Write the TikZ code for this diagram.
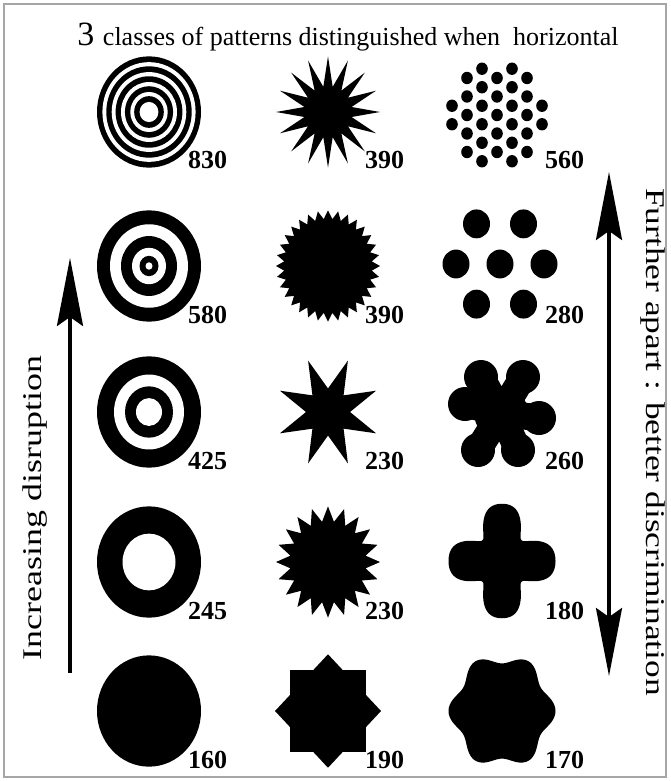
\documentclass[tikz,border=0pt]{standalone}
\usepackage{fontspec}
\setmainfont{Liberation Serif}
\usepackage{graphicx}
\usetikzlibrary{arrows.meta}

\tikzset{
  numlabel/.style={anchor=base west, inner sep=0pt, font=\fontsize{26}{26}\selectfont\bfseries},
  sidetext/.style={inner sep=0pt, font=\fontsize{27}{27}\selectfont},
  longarrow/.style={line width=3.5pt, -{Stealth[length=68pt, width=26pt, inset=9pt]}},
  bothways/.style={line width=3.5pt, {Stealth[length=68pt, width=26pt, inset=9pt]}-{Stealth[length=68pt, width=26pt, inset=9pt]}},
  shapescope/.style={yscale=1.07},
}

% spiky star: last index, step angle, start angle, outer radius, inner radius
\newcommand\spikes[5]{%
  \fill (#3:#4) \foreach \k in {1,...,#1} { -- ({#3+\k*#2}:{ifthenelse(mod(\k,2)==0,#4,#5)}) } -- cycle;}

\begin{document}
\begin{tikzpicture}[x=1pt, y=-1pt]
\useasboundingbox (0,0) rectangle (670,781);
\fill[white] (0,0) rectangle (670,781);
\draw[gray!70, line width=1.5pt] (4,4) rectangle (666,777);

% title
\node[anchor=base, inner sep=0pt] (title) at (348,46)
  {\fontsize{34}{34}\selectfont 3 \fontsize{26}{26}\selectfont classes of patterns distinguished when\ \ horizontal};

% first column: rings
\begin{scope}[shift={(149,112)}, shapescope]
  \foreach \r/\c in {52/black,46.6/white,42.7/black,37.3/white,33.4/black,28/white,24.1/black,18.7/white,14.8/black,9.4/white}
    \fill[\c] (0,0) circle[radius=\r];
\end{scope}
\begin{scope}[shift={(149,266)}, shapescope]
  \foreach \r/\c in {52/black,39/white,28/black,17/white,9.5/black,3.5/white}
    \fill[\c] (0,0) circle[radius=\r];
\end{scope}
\begin{scope}[shift={(149,412)}, shapescope]
  \foreach \r/\c in {52/black,35/white,24/black,13/white}
    \fill[\c] (0,0) circle[radius=\r];
\end{scope}
\begin{scope}[shift={(149,562)}, shapescope]
  \foreach \r/\c in {52/black,26.5/white}
    \fill[\c] (0,0) circle[radius=\r];
\end{scope}
\begin{scope}[shift={(149,711)}, shapescope]
  \fill (0,0) circle[radius=52];
\end{scope}

% second column: stars
\begin{scope}[shift={(328,112)}, shapescope]
  \spikes{31}{11.25}{90}{52}{24}
\end{scope}
\begin{scope}[shift={(328,266)}, shapescope]
  \spikes{63}{5.625}{90}{52}{44}
\end{scope}
\begin{scope}[shift={(328,412)}, shapescope]
  \spikes{15}{22.5}{22.5}{52}{22}
\end{scope}
\begin{scope}[shift={(328,562)}, shapescope]
  \spikes{39}{9}{90}{52}{38}
\end{scope}
\begin{scope}[shift={(328,711)}, shapescope]
  \fill (-38,-38) rectangle (38,38);
  \fill (53,0) -- (0,53) -- (-53,0) -- (0,-53) -- cycle;
\end{scope}

% third column: dots and blobs
\begin{scope}[shift={(497,115)}, shapescope]
  \foreach \dx/\dys in {0/{0,17.3,-17.3,34.6,-34.6},
                        15/{8.65,-8.65,25.95,-25.95,43.25,-43.25},
                        -15/{8.65,-8.65,25.95,-25.95,43.25,-43.25},
                        30/{0,17.3,-17.3,34.6,-34.6},
                        -30/{0,17.3,-17.3,34.6,-34.6},
                        45/{8.65,-8.65}, -45/{8.65,-8.65}}
    \foreach \dy in \dys
      \fill (\dx,\dy) circle[radius=5.8];
\end{scope}
\begin{scope}[shift={(500,264)}, shapescope]
  \foreach \p in {(-23.5,-37.5),(23.5,-37.5),(-44,0),(0,0),(44,0),(-23.5,37.5),(23.5,37.5)}
    \fill \p circle[radius=13.5];
\end{scope}
\begin{scope}[shift={(501,413)}]
  \fill (0,0) circle[radius=27];
  \foreach \p in {(-20,-36),(22,-36),(-36,-9),(38,5),(-23,37),(17,37)} {
    \draw[line width=27pt] (0,0) -- \p;
    \fill \p circle[radius=17];
  }
\end{scope}
\begin{scope}[shift={(502,561)}, shapescope]
  \fill plot[domain=0:360, samples=181] (\x:{43+13*cos(4*\x)-2.5*cos(8*\x)}) -- cycle;
\end{scope}
\begin{scope}[shift={(502,711)}, shapescope]
  \fill plot[domain=0:360, samples=181] (\x:{49+4.5*cos(6*\x)}) -- cycle;
\end{scope}

% counts
\foreach \t/\x/\y in {830/188/168, 580/188/323, 425/188/469, 245/188/619, 160/188/768,
                      390/365/168, 391/365/323, 230/365/469, 231/365/619, 190/365/768,
                      560/545/168, 280/545/323, 260/545/469, 180/545/619, 170/545/768}
  \node[numlabel] (n\t) at (\x,\y) {\pgfmathtruncatemacro\shown{\t==391 ? 390 : (\t==231 ? 230 : \t)}\shown};

% side arrows and texts
\coordinate (disruptlow) at (70,673);
\coordinate (disrupthigh) at (70,258);
\draw[longarrow] (disruptlow) -- (disrupthigh);
\node[sidetext, rotate=90] (disrupt) at (35,508) {\scalebox{1.33}[1]{Increasing disruption}};

\coordinate (aparttop) at (609,172);
\coordinate (apartbottom) at (609,676);
\draw[bothways] (aparttop) -- (apartbottom);
\node[sidetext, rotate=-90] (apart) at (653,442) {\scalebox{1.31}[1]{Further apart : better discrimination}};
\end{tikzpicture}
\end{document}
